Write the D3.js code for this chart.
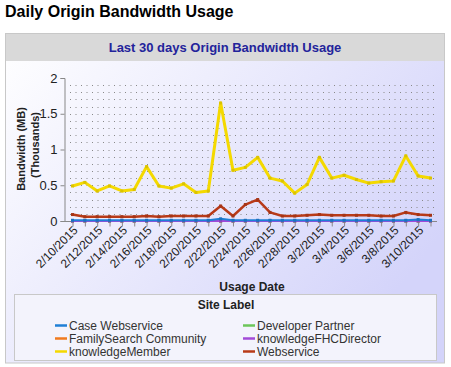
<!DOCTYPE html>
<html><head><meta charset="utf-8">
<script src="https://cdn.jsdelivr.net/npm/d3@7"></script>
<style>body{margin:0;background:#fff;font-family:"Liberation Sans",Arial,sans-serif}</style>
</head><body>
<svg id="c" width="451" height="367"></svg>
<script>
const dates = ["2/10/2015","2/11/2015","2/12/2015","2/13/2015","2/14/2015","2/15/2015","2/16/2015","2/17/2015","2/18/2015","2/19/2015","2/20/2015","2/21/2015","2/22/2015","2/23/2015","2/24/2015","2/25/2015","2/26/2015","2/27/2015","2/28/2015","3/1/2015","3/2/2015","3/3/2015","3/4/2015","3/5/2015","3/6/2015","3/7/2015","3/8/2015","3/9/2015","3/10/2015","3/11/2015"];
const caseWebservice = [0.01,0.01,0.01,0.01,0.01,0.01,0.01,0.01,0.01,0.01,0.01,0.01,0.03,0.01,0.01,0.01,0.01,0.01,0.01,0.01,0.01,0.01,0.01,0.01,0.01,0.01,0.01,0.01,0.02,0.01];
const developerPartner = [0,0,0,0,0,0,0,0,0,0,0,0,0,0,0,0,0,0,0,0,0,0,0,0,0,0,0,0,0,0];
const familySearchCommunity = [0,0,0,0,0,0,0,0,0,0,0,0,0,0,0,0,0,0,0,0,0,0,0,0,0,0,0,0,0,0];
const knowledgeFHCDirector = [0,0,0,0,0,0,0,0,0,0,0,0,0,0,0,0,0,0,0,0,0,0,0,0,0,0,0,0,0,0];
const knowledgeMember = [0.49,0.54,0.42,0.49,0.42,0.44,0.76,0.49,0.46,0.52,0.40,0.42,1.65,0.71,0.75,0.89,0.60,0.56,0.39,0.51,0.89,0.60,0.64,0.58,0.53,0.55,0.56,0.91,0.63,0.60];
const webservice = [0.09,0.06,0.06,0.06,0.06,0.06,0.07,0.06,0.07,0.07,0.07,0.07,0.21,0.07,0.23,0.30,0.12,0.07,0.07,0.08,0.09,0.08,0.08,0.08,0.08,0.07,0.07,0.12,0.09,0.08];
const yTicks = [0,0.5,1,1.5,2];
const legendLabels = ["Case Webservice","Developer Partner","FamilySearch Community","knowledgeFHCDirector","knowledgeMember","Webservice"];
const colors = ["#1f7fd6","#6cc65a","#f07a1e","#a24ad8","#f4d900","#b83a18"];

const seriesData = [familySearchCommunity, developerPartner, knowledgeFHCDirector, caseWebservice, webservice, knowledgeMember];
const seriesColors = [colors[2], colors[1], colors[3], colors[0], colors[5], colors[4]];
const seriesWidths = [2,2,2,2,2.5,3];

const svg = d3.select("#c");
const defs = svg.append("defs");
const g1 = defs.append("linearGradient").attr("id","bg").attr("x1","0").attr("y1","0").attr("x2","1").attr("y2","0.6");
g1.append("stop").attr("offset","0").attr("stop-color","#ffffff");
g1.append("stop").attr("offset","1").attr("stop-color","#d4d4fa");

svg.append("text").attr("x",5).attr("y",17).attr("font-size",16).attr("font-weight","bold").attr("fill","#000")
  .text("Daily Origin Bandwidth Usage");

// panel
svg.append("rect").attr("x",5.5).attr("y",33.5).attr("width",439).attr("height",329.5).attr("fill","url(#bg)").attr("stroke","#c8c8c8");
svg.append("rect").attr("x",6).attr("y",34).attr("width",438).attr("height",27).attr("fill","#d9d9d9");
svg.append("text").attr("x",225).attr("y",51.5).attr("text-anchor","middle").attr("font-size",13).attr("font-weight","bold").attr("fill","#23239b")
  .text("Last 30 days Origin Bandwidth Usage");

const x = d3.scalePoint().domain(dates).range([72.5,430.5]);
const y = d3.scaleLinear().domain([0,2]).range([221,78]);

// grid
const gridVals = d3.range(1,20).map(i=>i/10);
svg.append("g").selectAll("line").data(gridVals).join("line")
  .attr("x1",70).attr("x2",437).attr("y1",d=>Math.round(y(d))+0.5).attr("y2",d=>Math.round(y(d))+0.5)
  .attr("stroke","#8a8a8a").attr("stroke-width",1).attr("stroke-dasharray","1,4.5");

// y axis
const yAxis = svg.append("g").attr("transform","translate(64.5,0)")
  .call(d3.axisLeft(y).tickValues(yTicks).tickSize(4).tickPadding(3).tickFormat(d3.format("")));
yAxis.select(".domain").attr("stroke","#888");
yAxis.selectAll(".tick line").attr("stroke","#888");
yAxis.selectAll("text").attr("font-size",13).attr("fill","#222").attr("font-family","Liberation Sans, Arial");

// x axis
const xAxis = svg.append("g").attr("transform","translate(0,221.5)")
  .call(d3.axisBottom(x).tickSize(5).tickFormat(""));
xAxis.select(".domain").attr("d","M64,0H437").attr("stroke","#888");
xAxis.selectAll(".tick line").attr("stroke","#888");
svg.append("g").selectAll("text").data(dates.filter((d,i)=>i%2===0)).join("text")
  .attr("transform",d=>`translate(${x(d)+6},231) rotate(-45)`)
  .attr("text-anchor","end").attr("font-size",12).attr("fill","#222").text(d=>d);

// axis titles
svg.append("text").attr("transform","translate(25,149) rotate(-90)").attr("text-anchor","middle")
  .attr("font-size",11).attr("font-weight","bold").attr("fill","#222").text("Bandwidth (MB)");
svg.append("text").attr("transform","translate(38.5,145) rotate(-90)").attr("text-anchor","middle")
  .attr("font-size",11).attr("font-weight","bold").attr("fill","#222").text("(Thousands)");
svg.append("text").attr("x",252).attr("y",290.5).attr("text-anchor","middle").attr("font-size",12).attr("font-weight","bold").attr("fill","#222").text("Usage Date");

// lines
const line = d3.line().x((d,i)=>x(dates[i])).y(d=>y(d));
seriesData.forEach((s,k)=>{
  svg.append("path").datum(s).attr("d",line).attr("fill","none").attr("stroke",seriesColors[k])
    .attr("stroke-width",seriesWidths[k]).attr("stroke-linejoin","round");
  svg.append("g").selectAll("rect").data(s).join("rect")
    .attr("x",(d,i)=>x(dates[i])-1.5).attr("y",d=>y(d)-1.5).attr("width",3).attr("height",3)
    .attr("fill",d3.color(seriesColors[k]).darker(0.3));
});

// legend
svg.append("rect").attr("x",14.5).attr("y",294.5).attr("width",422).attr("height",66).attr("fill","#f3f3fc").attr("stroke","#c8c8c8");
svg.append("text").attr("x",226).attr("y",308.5).attr("text-anchor","middle").attr("font-size",12).attr("font-weight","bold").attr("fill","#222").text("Site Label");
legendLabels.forEach((lab,i)=>{
  const col = i%2, row = Math.floor(i/2);
  const lx = col===0?55:243, ly = 325.5+row*13;
  svg.append("line").attr("x1",lx).attr("x2",lx+12).attr("y1",ly).attr("y2",ly).attr("stroke",colors[i]).attr("stroke-width",2.5);
  svg.append("text").attr("x",lx+14).attr("y",ly+4.5).attr("font-size",12).attr("fill","#333").text(lab);
});
</script>
</body></html>
